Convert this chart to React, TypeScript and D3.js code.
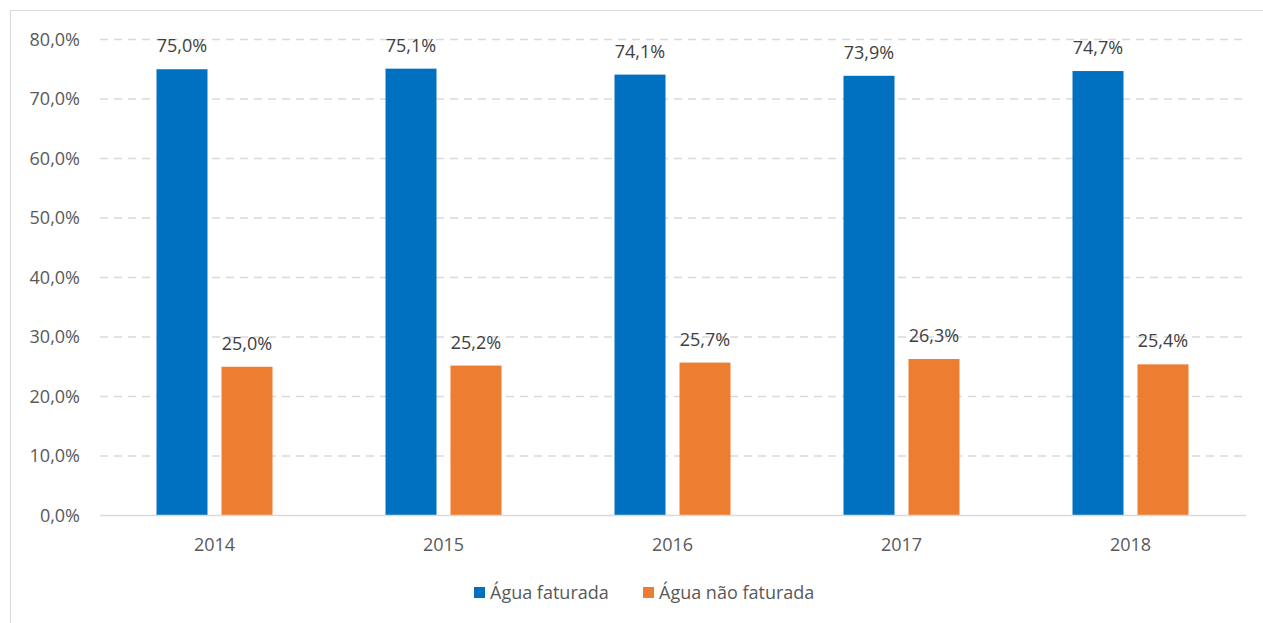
import React, { useEffect, useRef } from "react";
import * as d3 from "d3";

const years = ["2014", "2015", "2016", "2017", "2018"];
const faturada = [75.0, 75.1, 74.1, 73.9, 74.7];
const naoFaturada = [25.0, 25.2, 25.7, 26.3, 25.4];
const yTicks = [0, 10, 20, 30, 40, 50, 60, 70, 80];
const seriesNames = ["Água faturada", "Água não faturada"];
const colors = ["#0070C0", "#ED7D31"];

const fmt = (v: number) => v.toFixed(1).replace(".", ",") + "%";

const App = () => {
  const ref = useRef<SVGSVGElement>(null);

  useEffect(() => {
    const width = 1263;
    const height = 623;
    const svg = d3.select(ref.current);
    svg.selectAll("*").remove();
    const font = "'Open Sans', 'Noto Sans', sans-serif";
    const fs = 18;

    // outer frame
    svg
      .append("rect")
      .attr("x", 10.5)
      .attr("y", 10.5)
      .attr("width", width)
      .attr("height", height)
      .attr("fill", "white")
      .attr("stroke", "#d9d9d9");

    const left = 100;
    const right = 1245;
    const x = d3.scaleBand().domain(years).range([left, right]);
    const y = d3.scaleLinear().domain([0, 80]).range([515.5, 39.5]);
    const barW = 51;
    const gap = 14;

    // grid
    svg
      .append("g")
      .selectAll("line")
      .data(yTicks.filter((t) => t > 0))
      .enter()
      .append("line")
      .attr("x1", left)
      .attr("x2", right - 3)
      .attr("y1", (d) => y(d))
      .attr("y2", (d) => y(d))
      .attr("stroke", "#d9d9d9")
      .attr("stroke-width", 1.3)
      .attr("stroke-dasharray", "8,6");

    svg
      .append("g")
      .selectAll("text")
      .data(yTicks)
      .enter()
      .append("text")
      .attr("x", 80)
      .attr("y", (d) => y(d))
      .attr("dy", "0.35em")
      .attr("text-anchor", "end")
      .attr("font-family", font)
      .attr("font-size", fs)
      .attr("fill", "#595959")
      .text((d) => fmt(d));

    const series = [faturada, naoFaturada];
    series.forEach((vals, si) => {
      const off = si === 0 ? -gap / 2 - barW : gap / 2;
      const g = svg.append("g");
      g.selectAll("rect")
        .data(vals)
        .enter()
        .append("rect")
        .attr("x", (d, i) => x(years[i])! + x.bandwidth() / 2 + off)
        .attr("y", (d) => y(d))
        .attr("width", barW)
        .attr("height", (d) => y(0) - y(d))
        .attr("fill", colors[si]);
      g.selectAll("text")
        .data(vals)
        .enter()
        .append("text")
        .attr("x", (d, i) => x(years[i])! + x.bandwidth() / 2 + off + barW / 2)
        .attr("y", (d) => y(d) - 17)
        .attr("text-anchor", "middle")
        .attr("font-family", font)
        .attr("font-size", fs)
        .attr("fill", "#404040")
        .text((d) => fmt(d));
    });

    // axis line
    svg
      .append("line")
      .attr("x1", left)
      .attr("x2", right + 1)
      .attr("y1", y(0))
      .attr("y2", y(0))
      .attr("stroke", "#d9d9d9")
      .attr("stroke-width", 1.3);

    svg
      .append("g")
      .selectAll("text")
      .data(years)
      .enter()
      .append("text")
      .attr("x", (d) => x(d)! + x.bandwidth() / 2)
      .attr("y", 551)
      .attr("text-anchor", "middle")
      .attr("font-family", font)
      .attr("font-size", fs)
      .attr("fill", "#595959")
      .text((d) => d);

    // legend
    const legendX = [474, 643];
    const lg = svg
      .append("g")
      .selectAll("g")
      .data(seriesNames)
      .enter()
      .append("g")
      .attr("transform", (d, i) => `translate(${legendX[i]}, 587)`);
    lg.append("rect")
      .attr("width", 11)
      .attr("height", 11)
      .attr("fill", (d, i) => colors[i]);
    lg.append("text")
      .attr("x", 16)
      .attr("y", 5.5)
      .attr("dy", "0.35em")
      .attr("font-family", font)
      .attr("font-size", fs)
      .attr("fill", "#595959")
      .text((d) => d);
  }, []);

  return (
    <svg
      ref={ref}
      width={1263}
      height={623}
      style={{ position: "absolute", left: 0, top: 0, display: "block" }}
    />
  );
};

export default App;
